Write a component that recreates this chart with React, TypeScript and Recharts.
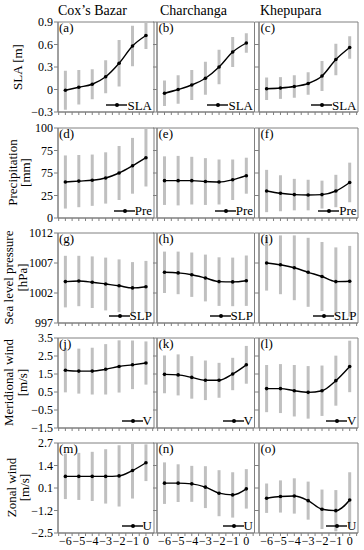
import { LineChart, Line, XAxis, YAxis, ErrorBar, ReferenceArea } from "recharts";

// lead time (days) shared by every panel
const STEPS = [-6, -5, -4, -3, -2, -1, 0];
const X_TICKS = [-6.5, -6, -5.5, -5, -4.5, -4, -3.5, -3, -2.5, -2, -1.5, -1, -0.5, 0, 0.5];
const X_DOMAIN: [number, number] = [-6.55, 0.6];

const STATIONS = ["Cox\u2019s Bazar", "Charchanga", "Khepupara"];
const TAGS = ["a", "b", "c", "d", "e", "f", "g", "h", "i", "j", "k", "l", "m", "n", "o"];

// SLA [m]
const SLA_TICKS = [-0.3, 0, 0.3, 0.6, 0.9];
const SLA_TICK_LABELS = ["\u22120.3", "0", "0.3", "0.6", "0.9"];
const SLA_COX = [-0.01, 0.03, 0.07, 0.17, 0.35, 0.58, 0.72];
const SLA_COX_SD = [0.26, 0.23, 0.2, 0.22, 0.31, 0.27, 0.18];
const SLA_CHAR = [-0.05, 0.0, 0.06, 0.15, 0.3, 0.5, 0.62];
const SLA_CHAR_SD = [0.17, 0.19, 0.2, 0.22, 0.23, 0.2, 0.13];
const SLA_KHEP = [0.01, 0.02, 0.04, 0.08, 0.18, 0.4, 0.56];
const SLA_KHEP_SD = [0.15, 0.145, 0.15, 0.15, 0.2, 0.21, 0.15];

// Precipitation [mm]
const PRE_TICKS = [0, 25, 50, 75, 100];
const PRE_TICK_LABELS = ["0", "25", "75", "75", "100"];
const PRE_COX = [40, 41, 42, 44.5, 50, 58, 67];
const PRE_COX_SD = [29.5, 29, 28.5, 28.5, 30, 31, 32];
const PRE_CHAR = [41.5, 41.5, 41.5, 40.5, 40, 42.5, 47];
const PRE_CHAR_SD = [27, 27.5, 26.5, 26, 25, 22.5, 20];
const PRE_KHEP = [30, 27.5, 26, 25.5, 26, 30, 39.5];
const PRE_KHEP_SD = [23.5, 20, 17.5, 17, 15.5, 18, 22];

// Sea level pressure [hPa]
const SLP_TICKS = [997, 1002, 1007, 1012];
const SLP_TICK_LABELS = ["997", "1002", "1007", "1012"];
const SLP_COX = [1003.9, 1004.0, 1003.8, 1003.5, 1003.2, 1002.85, 1003.05];
const SLP_COX_SD = [4.3, 4.2, 4.3, 4.4, 4.4, 4.3, 4.3];
const SLP_CHAR = [1005.45, 1005.35, 1005.05, 1004.5, 1003.9, 1003.85, 1004.05];
const SLP_CHAR_SD = [3.45, 3.55, 3.7, 3.9, 4.05, 4.05, 4.2];
const SLP_KHEP = [1007.0, 1006.7, 1006.2, 1005.45, 1004.75, 1003.9, 1003.95];
const SLP_KHEP_SD = [4.6, 4.9, 5.4, 5.75, 5.75, 5.7, 5.9];

// Meridional wind [m/s]
const V_TICKS = [-1.5, -0.5, 0.5, 1.5, 2.5, 3.5];
const V_TICK_LABELS = ["\u22121.5", "\u22120.5", "0.5", "1.5", "2.5", "3.5"];
const V_COX = [1.71, 1.66, 1.66, 1.76, 1.92, 2.01, 2.11];
const V_COX_SD = [1.23, 1.25, 1.3, 1.4, 1.45, 1.35, 1.2];
const V_CHAR = [1.48, 1.45, 1.31, 1.15, 1.15, 1.5, 2.01];
const V_CHAR_SD = [1.05, 1.14, 1.18, 1.1, 0.97, 0.9, 1.05];
const V_KHEP = [0.69, 0.69, 0.57, 0.48, 0.57, 1.13, 1.92];
const V_KHEP_SD = [1.31, 1.36, 1.43, 1.46, 1.4, 1.39, 1.43];

// Zonal wind [m/s]
const U_TICKS = [-2.5, -1.2, 0.1, 1.4, 2.7];
const U_TICK_LABELS = ["\u22122.5", "\u22121.2", "0.1", "1.4", "2.7"];
const U_COX = [0.77, 0.77, 0.77, 0.77, 0.8, 1.11, 1.56];
const U_COX_SD = [1.31, 1.36, 1.42, 1.57, 1.77, 1.62, 1.06];
const U_CHAR = [0.38, 0.38, 0.34, 0.15, -0.2, -0.3, 0.05];
const U_CHAR_SD = [1.2, 1.09, 1.04, 1.21, 1.33, 1.31, 1.14];
const U_KHEP = [-0.49, -0.39, -0.36, -0.63, -1.13, -1.21, -0.59];
const U_KHEP_SD = [0.85, 0.93, 1.02, 1.1, 1.14, 1.19, 1.6];

const ROWS = [
  { title: ["SLA [m]"], titleX: [17], legend: "SLA", domain: [-0.3, 0.9], ticks: SLA_TICKS, labels: SLA_TICK_LABELS, means: [SLA_COX, SLA_CHAR, SLA_KHEP], sds: [SLA_COX_SD, SLA_CHAR_SD, SLA_KHEP_SD] },
  { title: ["Precipitation", "[mm]"], titleX: [12.5, 25], legend: "Pre", domain: [0, 100], ticks: PRE_TICKS, labels: PRE_TICK_LABELS, means: [PRE_COX, PRE_CHAR, PRE_KHEP], sds: [PRE_COX_SD, PRE_CHAR_SD, PRE_KHEP_SD] },
  { title: ["Sea level pressure", "[hPa]"], titleX: [8.5, 22.5], legend: "SLP", domain: [997, 1012], ticks: SLP_TICKS, labels: SLP_TICK_LABELS, means: [SLP_COX, SLP_CHAR, SLP_KHEP], sds: [SLP_COX_SD, SLP_CHAR_SD, SLP_KHEP_SD] },
  { title: ["Meridional wind", "[m/s]"], titleX: [8.5, 22.5], legend: "V", domain: [-1.5, 3.5], ticks: V_TICKS, labels: V_TICK_LABELS, means: [V_COX, V_CHAR, V_KHEP], sds: [V_COX_SD, V_CHAR_SD, V_KHEP_SD] },
  { title: ["Zonal wind", "[m/s]"], titleX: [11, 24], legend: "U", domain: [-2.5, 2.7], ticks: U_TICKS, labels: U_TICK_LABELS, means: [U_COX, U_CHAR, U_KHEP], sds: [U_COX_SD, U_CHAR_SD, U_KHEP_SD] },
];

const FONT = "'Liberation Serif', 'Times New Roman', serif";
const AXIS = "#808080";
const BAR = "#c0c0c0";

const PLOT_LEFT = [57.5, 157, 259];
const PLOT_W = [96, 97.5, 99];
const PLOT_TOP = [22, 127.5, 232.5, 337.5, 442.5];
const PLOT_H = 90;
const Y_W = 36;
const X_H = 20;
const M_TOP = 8;
const M_RIGHT = 2;
const TITLE_X = [58, 160, 260];

const fmt = (v: number) => (v < 0 ? "\u2212" + Math.abs(v) : String(v));

function Panel({ r, c }: { r: number; c: number }) {
  const row = ROWS[r];
  const data = STEPS.map((t, i) => ({ t, v: row.means[c][i], e: row.sds[c][i] }));
  const w = Y_W + PLOT_W[c] + M_RIGHT;
  const h = M_TOP + PLOT_H + X_H;
  const tick = { fill: "#000", fontSize: 12, fontFamily: FONT };

  return (
    <div style={{ position: "absolute", left: PLOT_LEFT[c] - Y_W, top: PLOT_TOP[r] - M_TOP, width: w, height: h }}>
      <LineChart width={w} height={h} data={data} margin={{ top: M_TOP, right: M_RIGHT, bottom: 0, left: 0 }}>
        <XAxis
          type="number"
          dataKey="t"
          domain={X_DOMAIN}
          ticks={X_TICKS}
          interval={0}
          allowDataOverflow
          height={X_H}
          tickSize={3}
          tickMargin={0}
          stroke={AXIS}
          tick={tick}
          tickFormatter={(v: number) => (r === 4 && Number.isInteger(v) && v <= 0 ? fmt(v) : "")}
        />
        <YAxis
          type="number"
          domain={row.domain}
          ticks={row.ticks}
          interval={0}
          allowDataOverflow
          width={Y_W}
          tickSize={4}
          tickMargin={1}
          stroke={AXIS}
          tick={tick}
          tickFormatter={(v: number) => (c === 0 ? row.labels[row.ticks.indexOf(v)] : "")}
        />
        <ReferenceArea
          x1={X_DOMAIN[0]}
          x2={X_DOMAIN[1]}
          y1={row.domain[0]}
          y2={row.domain[1]}
          fill="none"
          stroke={AXIS}
          strokeWidth={1}
          ifOverflow="visible"
        />
        <Line dataKey="v" stroke="none" dot={false} activeDot={false} isAnimationActive={false}>
          <ErrorBar dataKey="e" direction="y" width={0} stroke={BAR} strokeWidth={3} isAnimationActive={false} />
        </Line>
        <Line
          dataKey="v"
          type="monotone"
          stroke="#000"
          strokeWidth={1.4}
          dot={{ r: 1.8, fill: "#000", stroke: "none" }}
          activeDot={false}
          isAnimationActive={false}
        />
      </LineChart>
      <div
        style={{
          position: "absolute",
          left: Y_W + 1.5,
          top: M_TOP - 1,
          fontFamily: FONT,
          fontSize: 13,
          lineHeight: "13px",
        }}
      >
        ({TAGS[r * 3 + c]})
      </div>
      <div
        style={{
          position: "absolute",
          right: M_RIGHT + 1.5,
          top: M_TOP + PLOT_H - 13.4,
          display: "flex",
          alignItems: "center",
          fontFamily: FONT,
          fontSize: 13,
          lineHeight: "13px",
        }}
      >
        <svg width={21} height={8} style={{ display: "block" }}>
          <line x1={0} y1={4} x2={21} y2={4} stroke="#000" strokeWidth={1.4} />
          <circle cx={11} cy={4} r={2} fill="#000" />
        </svg>
        <span>{row.legend}</span>
      </div>
    </div>
  );
}

export default function App() {
  return (
    <div style={{ position: "absolute", left: 0, top: 0, width: 364, height: 550, background: "#fff" }}>
      <svg width={364} height={550} style={{ position: "absolute", left: 0, top: 0 }}>
        {STATIONS.map((s, c) => (
          <text key={s} x={TITLE_X[c]} y={15} fontFamily={FONT} fontSize={14} fill="#000">
            {s}
          </text>
        ))}
        {ROWS.map((row, r) =>
          row.title.map((line, k) => {
            const cy = PLOT_TOP[r] + PLOT_H / 2;
            const x = row.titleX[k];
            return (
              <text
                key={r + "-" + k}
                x={x}
                y={cy}
                transform={`rotate(-90 ${x} ${cy})`}
                textAnchor="middle"
                dominantBaseline="central"
                fontFamily={FONT}
                fontSize={13}
                fill="#000"
              >
                {line}
              </text>
            );
          })
        )}
      </svg>
      {ROWS.map((_, r) => [0, 1, 2].map((c) => <Panel key={r * 3 + c} r={r} c={c} />))}
    </div>
  );
}
